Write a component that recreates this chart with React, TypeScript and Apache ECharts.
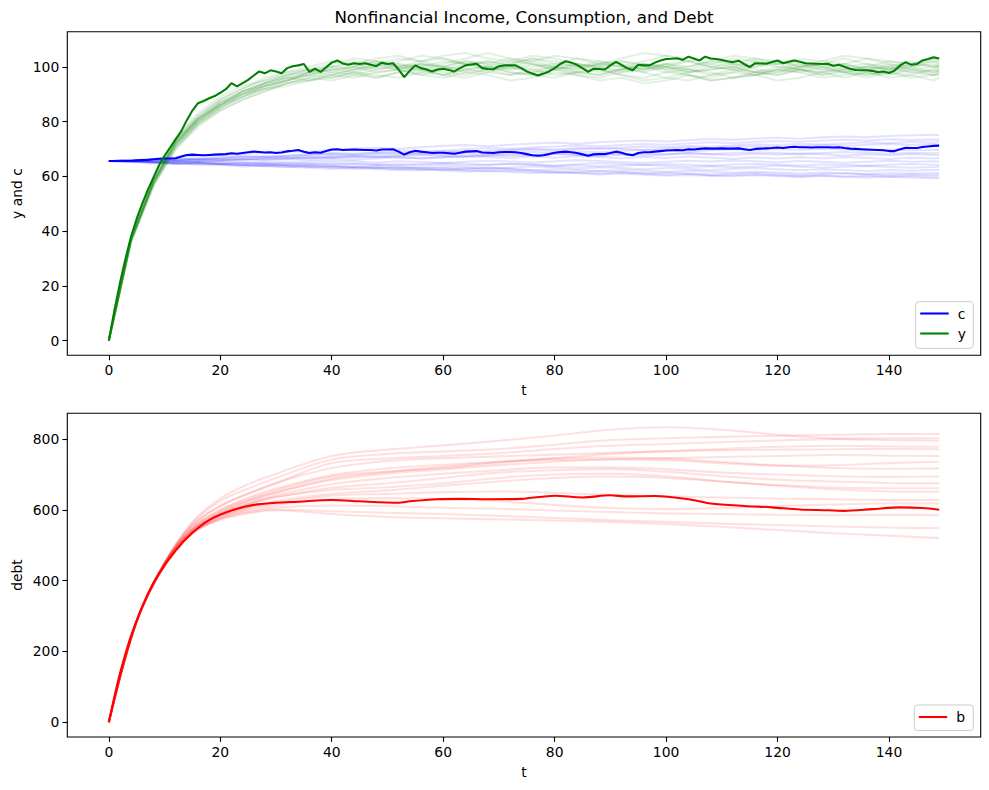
import React, { useEffect, useRef } from "react";
import * as echarts from "echarts";

const FONT = "DejaVu Sans, Verdana, sans-serif";

// ---- tick labels ----
const xTicks = [0, 20, 40, 60, 80, 100, 120, 140];
const yTicksTop = [0, 20, 40, 60, 80, 100];
const yTicksBottom = [0, 200, 400, 600, 800];

// ---- main paths (index = t) ----
const yMain = [
  0, 11, 21, 30, 38, 44.5, 50, 55, 59.5, 64, 67.5, 70.5, 73.5, 76.5, 80.5, 84, 86.7, 87.5, 88.5, 89.3,
  90.5, 91.8, 94, 92.8, 94, 95.2, 96.8, 98.3, 97.6, 98.7,
  98.3, 97.6, 99.5, 100.2, 100.5, 101, 98.1, 99.3, 98.1, 99.8,
  101.5, 102.3, 101.2, 100.7, 101.3, 101, 101.3, 100.7, 100.2, 101.5,
  101, 101.3, 99, 96.2, 98.5, 100.5, 99.5, 99, 98.3, 99,
  99.3, 98.8, 98.3, 99.5, 100.5, 100.8, 101.1, 99.5, 99.2, 99.1,
  100.2, 100.5, 100.5, 100.5, 99.5, 98.3, 97.5, 96.8, 97.5, 98.3,
  99.5, 101, 102, 101.5, 100.7, 99.5, 98.1, 99.3, 99.2, 99,
  100.5, 101.8, 100.7, 99.5, 98.7, 100.7, 100.5, 100.5, 101.5, 102.3,
  102.8, 102.9, 103.1, 102.5, 103.7, 103, 102.3, 103.7, 103, 102.8,
  102.5, 102, 101.7, 102.2, 101, 99.9, 101.3, 101.2, 101.1, 101.7,
  102.3, 101.3, 101.8, 102.3, 101.8, 101.3, 101.2, 101.1, 101, 101.1,
  100.4, 100.7, 100, 99.3, 98.8, 98.7, 98.7, 98.5, 98, 98.3,
  97.7, 98.6, 100.5, 101.7, 100.7, 101, 102.3, 102.8, 103.5, 103,
];

const cMain = [
  65.6, 65.6, 65.65, 65.7, 65.7, 65.8, 65.9, 66, 66.2, 66.4,
  66.5, 66.5, 66.6, 67.2, 67.8, 67.9, 67.8, 67.7, 67.8, 67.9,
  68, 68.1, 68.4, 68.2, 68.5, 68.8, 69, 68.9, 68.7, 68.8,
  68.5, 68.7, 69.1, 69.3, 69.6, 69, 68.5, 68.8, 68.6, 69.2,
  69.8, 69.9, 69.6, 69.7, 69.8, 69.7, 69.6, 69.6, 69.4, 69.8,
  69.8, 69.9, 69, 67.9, 68.8, 69.3, 69, 68.8, 68.5, 68.6,
  68.6, 68.4, 68.2, 68.6, 69, 69.1, 69.2, 68.7, 68.6, 68.5,
  68.8, 68.9, 68.9, 68.8, 68.5, 68.1, 67.7, 67.5, 67.7, 68.1,
  68.6, 68.9, 69, 68.8, 68.5, 68, 67.5, 68, 68.1, 68.1,
  68.5, 69, 68.6, 68, 67.7, 68.5, 68.8, 68.8, 69, 69.2,
  69.4, 69.5, 69.6, 69.5, 69.9, 69.8, 70, 70.2, 70.1, 70.1,
  70.2, 70.1, 70.1, 70.2, 69.9, 69.6, 70, 70.1, 70.2, 70.3,
  70.5, 70.3, 70.6, 70.8, 70.6, 70.6, 70.5, 70.6, 70.6, 70.6,
  70.5, 70.6, 70.3, 70.1, 70, 69.9, 69.8, 69.7, 69.6, 69.5,
  69.2, 69.2, 69.9, 70.4, 70.3, 70.3, 70.7, 70.9, 71.1, 71.2,
];

const tB = [0, 1, 2, 4, 7, 9, 12, 15, 18, 22, 26, 30, 34, 40, 45, 52, 54, 59, 63, 68, 74, 80, 85, 90, 93, 98, 104, 108, 114, 119, 124, 129, 132, 137, 142, 146, 149];
const bMain = [0, 72, 138, 245, 362, 420, 485, 535, 571, 598, 614, 620, 623, 628, 624, 620, 624, 630, 631, 630, 631, 640, 635, 641, 638, 639, 630, 618, 611, 607, 601, 599, 597, 602, 607, 605, 600];

// ---- faint simulated paths ----
const tFaint = [0, 4, 8, 12, 16, 20, 24, 28, 32, 36, 40, 44, 48, 52, 56, 60, 64, 68, 72, 76, 80, 84, 88, 92, 96, 100, 104, 108, 112, 116, 120, 124, 128, 132, 136, 140, 144, 148, 149];

const yFaint = [
  [0, 37, 58, 72, 80, 86, 91, 94, 96, 97, 99, 100, 98, 99, 101, 100, 102, 101, 99, 100, 101, 103, 102, 100, 99, 101, 102, 100, 99, 101, 102, 100, 101, 99, 100, 102, 101, 100, 100.5],
  [0, 36, 57, 71, 79, 85, 89, 93, 95, 98, 97, 99, 101, 103, 102, 100, 99, 98, 100, 102, 104, 103, 101, 100, 102, 104, 103, 101, 100, 98, 99, 101, 100, 98, 97, 99, 98, 97, 97.5],
  [0, 38, 59, 74, 82, 88, 92, 95, 98, 100, 102, 101, 103, 104, 102, 103, 101, 100, 102, 101, 99, 100, 98, 99, 101, 100, 99, 97, 98, 100, 101, 103, 102, 104, 103, 101, 100, 102, 101.5],
  [0, 37, 57, 70, 78, 84, 88, 91, 94, 95, 96, 98, 97, 96, 98, 97, 99, 100, 98, 97, 96, 98, 99, 97, 96, 98, 97, 95, 96, 97, 99, 98, 96, 97, 98, 96, 97, 95, 96],
  [0, 37, 58, 73, 81, 87, 90, 94, 97, 99, 98, 100, 102, 100, 99, 101, 103, 105, 103, 101, 100, 99, 101, 102, 100, 98, 99, 101, 103, 102, 100, 99, 98, 100, 101, 99, 100, 98, 98.5],
  [0, 36, 57, 71, 80, 85, 90, 92, 95, 97, 99, 98, 96, 98, 100, 102, 101, 99, 97, 98, 100, 101, 99, 97, 95, 96, 98, 100, 99, 97, 98, 100, 102, 101, 99, 98, 100, 101, 100],
  [0, 37, 58, 72, 81, 86, 90, 93, 96, 98, 100, 102, 101, 99, 101, 100, 98, 99, 101, 103, 102, 100, 101, 103, 105, 104, 102, 100, 101, 103, 102, 100, 99, 101, 103, 102, 101, 103, 102.5],
  [0, 38, 59, 73, 81, 87, 91, 94, 96, 95, 97, 99, 100, 102, 104, 103, 101, 102, 100, 99, 97, 98, 100, 99, 98, 96, 95, 97, 99, 98, 100, 99, 101, 100, 98, 97, 99, 98, 99],
  [0, 37, 58, 72, 80, 86, 89, 92, 93, 95, 97, 96, 98, 99, 97, 96, 98, 97, 95, 96, 98, 97, 95, 96, 94, 95, 97, 96, 98, 97, 95, 96, 98, 99, 97, 98, 96, 97, 97],
  [0, 37, 58, 73, 82, 88, 92, 96, 98, 99, 101, 103, 102, 100, 101, 99, 100, 102, 101, 103, 101, 100, 102, 101, 99, 100, 98, 99, 100, 102, 101, 99, 97, 99, 100, 99, 101, 102, 101],
  [0, 36, 56, 70, 79, 84, 88, 91, 94, 96, 98, 97, 99, 101, 100, 98, 97, 99, 100, 98, 99, 101, 100, 102, 101, 99, 100, 102, 104, 103, 101, 102, 100, 101, 99, 100, 98, 99, 99.5],
  [0, 37, 58, 72, 80, 86, 90, 93, 95, 97, 96, 98, 100, 99, 97, 99, 101, 100, 98, 97, 99, 97, 96, 98, 100, 101, 99, 98, 96, 97, 99, 98, 100, 98, 99, 101, 99, 100, 99.5],
  [0, 38, 60, 74, 83, 89, 93, 95, 97, 99, 100, 99, 101, 100, 102, 104, 105, 103, 102, 104, 103, 101, 100, 98, 99, 101, 100, 102, 101, 99, 98, 100, 101, 103, 101, 100, 102, 100, 100.5],
  [0, 37, 57, 71, 79, 85, 89, 92, 94, 96, 95, 97, 96, 98, 99, 97, 96, 98, 97, 99, 100, 98, 97, 99, 100, 99, 97, 95, 96, 98, 97, 99, 98, 96, 98, 100, 99, 97, 98],
  [0, 37, 58, 72, 81, 87, 91, 94, 97, 98, 100, 101, 99, 100, 98, 100, 102, 101, 103, 102, 100, 99, 101, 100, 98, 100, 102, 103, 101, 100, 102, 101, 99, 98, 100, 99, 101, 103, 102],
  [0, 37, 58, 73, 81, 86, 91, 93, 95, 98, 99, 100, 102, 101, 99, 97, 99, 100, 99, 101, 99, 98, 97, 99, 101, 100, 98, 99, 100, 98, 97, 99, 97, 98, 96, 98, 97, 99, 98],
];

const cFaint = [
  [65.6, 65.5, 65.2, 64.8, 65.1, 64.6, 64.2, 64.5, 64.0, 63.6, 63.9, 63.4, 63.0, 63.3, 62.8, 62.4, 62.9, 63.3, 62.8, 62.2, 61.7, 61.3, 61.0, 61.5, 61.0, 60.6, 60.9, 60.4, 60.0, 60.4, 60.1, 59.7, 60.2, 59.8, 59.5, 59.9, 59.6, 59.3, 59.3],
  [65.6, 65.8, 66.3, 66.9, 67.2, 67.8, 68.1, 68.6, 69.2, 69.0, 69.5, 70.1, 70.4, 70.0, 70.6, 71.1, 71.4, 71.0, 71.5, 72.0, 72.3, 71.9, 72.4, 72.8, 73.1, 72.7, 73.2, 73.6, 73.3, 73.8, 74.1, 73.7, 74.2, 74.5, 74.2, 74.7, 75.0, 75.2, 75.1],
  [65.6, 65.7, 66.1, 66.5, 66.2, 66.8, 67.3, 67.0, 67.6, 68.1, 68.5, 68.2, 68.8, 69.3, 69.0, 69.4, 69.9, 70.3, 70.0, 70.5, 70.9, 71.3, 71.0, 71.4, 71.8, 71.5, 72.0, 72.4, 72.1, 72.6, 72.9, 72.6, 73.0, 73.4, 73.1, 73.5, 73.2, 73.4, 73.3],
  [65.6, 65.5, 65.9, 66.3, 66.0, 66.4, 66.9, 67.3, 67.0, 67.5, 67.9, 67.6, 68.1, 68.6, 68.3, 68.7, 69.1, 68.8, 69.3, 69.7, 69.4, 69.9, 70.3, 70.0, 69.6, 70.1, 70.5, 70.2, 70.7, 71.0, 70.6, 71.0, 71.4, 71.1, 71.5, 71.8, 71.4, 71.6, 71.5],
  [65.6, 65.4, 65.8, 65.5, 65.9, 66.3, 66.0, 66.5, 66.9, 66.6, 67.1, 67.5, 67.2, 67.7, 68.1, 67.8, 68.3, 68.0, 68.5, 68.9, 68.6, 69.1, 68.8, 69.3, 69.7, 69.4, 69.0, 69.5, 69.9, 69.6, 70.0, 69.7, 70.1, 69.8, 69.4, 69.8, 69.5, 69.7, 69.6],
  [65.6, 65.7, 65.4, 65.9, 66.3, 66.0, 66.4, 66.1, 66.6, 67.0, 66.7, 67.2, 66.9, 67.4, 67.8, 67.5, 67.1, 67.6, 68.0, 67.7, 68.2, 67.8, 67.4, 67.9, 68.3, 68.0, 68.4, 68.1, 67.7, 68.2, 67.9, 68.3, 68.0, 67.6, 68.0, 67.7, 68.1, 67.8, 67.8],
  [65.6, 65.5, 65.2, 65.6, 65.3, 65.7, 66.1, 65.8, 66.2, 65.9, 66.4, 66.0, 66.5, 66.9, 66.6, 67.0, 67.4, 67.1, 66.7, 67.2, 66.8, 67.3, 67.0, 66.6, 67.1, 66.7, 67.2, 66.8, 66.4, 66.9, 66.5, 67.0, 66.6, 67.0, 66.7, 66.3, 66.8, 66.5, 66.6],
  [65.6, 65.6, 65.3, 65.0, 65.4, 65.1, 64.8, 65.2, 64.9, 65.3, 65.7, 65.4, 65.0, 65.5, 65.2, 64.8, 65.3, 65.7, 65.4, 65.0, 65.5, 65.9, 65.6, 65.2, 64.9, 65.3, 65.7, 65.4, 65.8, 65.5, 65.1, 65.6, 65.3, 64.9, 65.3, 65.7, 65.3, 65.5, 65.4],
  [65.6, 65.4, 65.0, 65.3, 64.9, 64.5, 64.9, 64.6, 64.2, 64.6, 64.3, 64.7, 64.4, 64.0, 64.5, 64.9, 64.6, 64.2, 64.6, 64.3, 63.9, 64.4, 64.8, 64.5, 64.1, 64.5, 64.2, 63.8, 64.3, 64.6, 64.3, 63.9, 64.4, 64.1, 63.8, 64.2, 64.5, 64.2, 64.1],
  [65.6, 65.3, 64.9, 64.5, 64.8, 64.4, 64.0, 64.3, 63.9, 64.2, 63.8, 63.4, 63.8, 63.5, 63.1, 63.5, 63.2, 62.8, 63.2, 63.6, 63.3, 62.9, 63.3, 63.0, 62.6, 63.0, 62.7, 62.3, 62.7, 63.0, 62.6, 62.2, 62.6, 62.3, 61.9, 62.3, 62.0, 62.4, 62.3],
  [65.6, 65.4, 65.1, 64.7, 64.3, 64.6, 64.2, 63.8, 64.1, 63.7, 63.3, 63.6, 63.2, 62.8, 63.2, 62.9, 62.5, 62.9, 62.6, 62.2, 62.6, 62.3, 61.9, 62.3, 62.0, 61.6, 62.0, 61.7, 61.3, 61.7, 61.4, 61.0, 61.4, 61.1, 60.8, 61.2, 60.9, 61.2, 61.1],
  [65.6, 65.5, 65.1, 64.8, 64.4, 64.0, 63.6, 63.9, 63.5, 63.1, 62.7, 63.0, 62.6, 62.2, 62.5, 62.1, 61.7, 62.0, 61.6, 61.2, 61.5, 61.1, 60.7, 61.0, 60.6, 60.2, 60.5, 60.1, 60.4, 60.7, 60.3, 60.0, 60.3, 59.9, 60.2, 59.8, 60.1, 59.8, 59.9],
  [65.6, 65.8, 66.2, 66.0, 66.5, 66.9, 67.3, 67.0, 67.5, 67.9, 68.3, 68.0, 68.5, 68.2, 68.7, 69.1, 68.8, 69.3, 69.7, 70.1, 69.8, 70.3, 70.0, 70.5, 70.9, 70.6, 71.1, 70.8, 71.3, 71.7, 71.4, 71.9, 71.6, 72.0, 72.4, 72.1, 72.5, 72.3, 72.5],
  [65.6, 65.6, 65.9, 65.6, 65.2, 65.5, 65.1, 64.7, 65.0, 64.6, 64.9, 64.5, 64.1, 64.4, 64.0, 64.3, 63.9, 64.2, 64.5, 64.1, 63.7, 64.0, 63.6, 63.9, 64.2, 63.8, 63.4, 63.7, 63.3, 63.6, 63.9, 63.5, 63.2, 63.5, 63.8, 63.4, 63.1, 63.4, 63.5],
  [65.6, 65.7, 66.0, 65.7, 66.1, 65.8, 66.2, 66.6, 66.3, 66.7, 67.1, 66.8, 67.2, 66.9, 66.5, 66.9, 67.3, 67.7, 67.4, 67.8, 68.2, 67.9, 68.3, 68.0, 67.6, 68.0, 68.4, 68.1, 68.5, 68.8, 68.5, 68.1, 68.5, 68.9, 68.6, 68.2, 68.6, 68.4, 68.5],
  [65.6, 65.4, 65.0, 64.6, 64.9, 64.5, 64.1, 63.7, 63.3, 63.6, 63.2, 62.8, 63.1, 62.7, 62.3, 62.6, 62.2, 61.8, 62.1, 61.7, 61.3, 61.6, 61.9, 61.5, 61.1, 61.4, 61.0, 60.6, 60.9, 61.2, 60.8, 60.5, 60.8, 61.1, 60.7, 60.4, 60.7, 60.5, 60.6],
];

const tBFaint = [0, 5, 10, 15, 20, 25, 30, 40, 50, 60, 70, 80, 90, 100, 110, 120, 130, 140, 149];
const bFaint = [
  [0, 288, 452, 566, 632, 672, 702, 752, 770, 782, 795, 810, 826, 833, 826, 812, 801, 797, 795],
  [0, 288, 451, 562, 625, 660, 690, 742, 758, 765, 772, 784, 797, 802, 806, 809, 812, 814, 814],
  [0, 287, 450, 556, 612, 645, 675, 732, 745, 752, 760, 772, 781, 786, 791, 796, 800, 802, 802],
  [0, 288, 450, 557, 610, 646, 676, 718, 738, 746, 751, 756, 761, 766, 772, 778, 781, 779, 778],
  [0, 287, 448, 549, 598, 630, 655, 694, 708, 718, 732, 746, 758, 765, 768, 770, 771, 772, 771],
  [0, 287, 449, 551, 600, 634, 660, 698, 717, 727, 736, 741, 743, 746, 749, 752, 755, 753, 752],
  [0, 286, 447, 545, 592, 624, 648, 684, 702, 714, 726, 736, 742, 740, 732, 725, 726, 732, 736],
  [0, 286, 447, 546, 594, 626, 650, 688, 707, 721, 736, 745, 748, 745, 735, 725, 718, 716, 717],
  [0, 286, 446, 542, 589, 619, 641, 672, 690, 702, 712, 720, 720, 715, 705, 700, 695, 693, 694],
  [0, 285, 445, 540, 586, 615, 636, 662, 675, 690, 705, 712, 715, 708, 695, 685, 680, 676, 675],
  [0, 285, 446, 542, 587, 616, 636, 656, 664, 675, 690, 700, 702, 695, 680, 670, 663, 661, 661],
  [0, 285, 445, 538, 583, 608, 625, 645, 655, 668, 680, 690, 694, 690, 680, 668, 658, 652, 651],
  [0, 284, 444, 537, 581, 605, 620, 640, 645, 650, 652, 648, 642, 638, 635, 632, 630, 628, 628],
  [0, 284, 444, 536, 578, 602, 614, 630, 633, 630, 624, 614, 605, 602, 605, 610, 615, 618, 618],
  [0, 284, 444, 535, 576, 597, 607, 612, 610, 606, 603, 598, 594, 590, 588, 586, 585, 586, 585],
  [0, 284, 443, 534, 574, 593, 601, 596, 592, 588, 583, 577, 571, 566, 561, 557, 553, 550, 548],
  [0, 284, 443, 534, 572, 590, 599, 588, 580, 576, 573, 570, 566, 560, 552, 543, 534, 527, 520],
];

// ---- helpers ----
function pairs(ts: number[], vs: number[]) {
  const n = Math.min(ts.length, vs.length);
  const out: number[][] = [];
  for (let i = 0; i < n; i++) out.push([ts[i], vs[i]]);
  return out;
}
function indexed(vs: number[]) {
  return vs.map((v, t) => [t, v]);
}

const LW = 2.08;

function faintSeries(rows: number[][], ts: number[], color: string, idx: number, smooth: boolean) {
  return rows.map((r) => ({
    type: "line",
    xAxisIndex: idx,
    yAxisIndex: idx,
    data: pairs(ts, r),
    showSymbol: false,
    symbol: "none",
    silent: true,
    smooth: smooth ? 0.35 : false,
    lineStyle: { color, width: LW },
    z: 2,
  }));
}

function xAxisCfg(gridIndex: number) {
  return {
    type: "value",
    gridIndex,
    position: "bottom",
    min: -7.45,
    max: 156.45,
    axisLine: { show: false, onZero: false },
    splitLine: { show: false },
    axisTick: { show: true, inside: false, length: 4.9, lineStyle: { color: "#000", width: 1.1 }, customValues: xTicks },
    axisLabel: { color: "#000", fontFamily: FONT, fontSize: 13.9, margin: 8, customValues: xTicks },
  };
}
function yAxisCfg(gridIndex: number, min: number, max: number, ticks: number[]) {
  return {
    type: "value",
    gridIndex,
    position: "left",
    min,
    max,
    axisLine: { show: false, onZero: false },
    splitLine: { show: false },
    axisTick: { show: true, inside: false, length: 4.9, lineStyle: { color: "#000", width: 1.1 }, customValues: ticks },
    axisLabel: { color: "#000", fontFamily: FONT, fontSize: 13.9, margin: 8, customValues: ticks },
  };
}

const GL = 67.3;
const GW = 913.4;

function legendBox(x: number, y: number, w: number, h: number, items: { label: string; color: string; y: number }[]) {
  const children: any[] = [
    {
      type: "rect",
      shape: { x, y, width: w, height: h, r: 3 },
      style: { fill: "rgba(255,255,255,0.8)", stroke: "#cccccc", lineWidth: 1 },
    },
  ];
  items.forEach((it) => {
    children.push({
      type: "line",
      shape: { x1: x + 4.5, y1: it.y, x2: x + 33, y2: it.y },
      style: { stroke: it.color, lineWidth: LW },
    });
    children.push({
      type: "text",
      x: x + 42,
      y: it.y,
      style: { text: it.label, fill: "#000", font: `13.9px ${FONT}`, textAlign: "left", textVerticalAlign: "middle" },
    });
  });
  return { type: "group", children, z: 100 };
}

export default function App() {
  const ref = useRef<HTMLDivElement>(null);
  useEffect(() => {
    if (!ref.current) return;
    const chart = echarts.init(ref.current, null, { renderer: "svg" });
    const option: any = {
      animation: false,
      backgroundColor: "#ffffff",
      grid: [
        { left: GL, top: 31.7, width: GW, height: 323.6, show: true, borderColor: "#000", borderWidth: 1.1, backgroundColor: "transparent" },
        { left: GL, top: 413.3, width: GW, height: 323.7, show: true, borderColor: "#000", borderWidth: 1.1, backgroundColor: "transparent" },
      ],
      xAxis: [xAxisCfg(0), xAxisCfg(1)],
      yAxis: [yAxisCfg(0, -5.37, 112.8, yTicksTop), yAxisCfg(1, -41.5, 872.6, yTicksBottom)],
      series: [
        ...faintSeries(cFaint, tFaint, "rgba(0,0,255,0.11)", 0, false),
        ...faintSeries(yFaint, tFaint, "rgba(0,128,0,0.11)", 0, false),
        ...faintSeries(bFaint, tBFaint, "rgba(255,0,0,0.12)", 1, true),
        {
          name: "c",
          type: "line",
          xAxisIndex: 0,
          yAxisIndex: 0,
          data: indexed(cMain),
          symbol: "none",
          showSymbol: false,
          lineStyle: { color: "#0000ff", width: LW },
          z: 5,
        },
        {
          name: "y",
          type: "line",
          xAxisIndex: 0,
          yAxisIndex: 0,
          data: indexed(yMain),
          symbol: "none",
          showSymbol: false,
          lineStyle: { color: "#008000", width: LW },
          z: 5,
        },
        {
          name: "b",
          type: "line",
          xAxisIndex: 1,
          yAxisIndex: 1,
          data: pairs(tB, bMain),
          symbol: "none",
          showSymbol: false,
          smooth: 0.3,
          lineStyle: { color: "#ff0000", width: LW },
          z: 5,
        },
      ],
      graphic: [
        {
          type: "text",
          x: GL + GW / 2,
          y: 17,
          style: { text: "Nonfinancial Income, Consumption, and Debt", fill: "#000", font: `16.7px ${FONT}`, textAlign: "center", textVerticalAlign: "middle" },
        },
        {
          type: "text",
          x: GL + GW / 2,
          y: 390,
          style: { text: "t", fill: "#000", font: `13.9px ${FONT}`, textAlign: "center", textVerticalAlign: "middle" },
        },
        {
          type: "text",
          x: GL + GW / 2,
          y: 771.5,
          style: { text: "t", fill: "#000", font: `13.9px ${FONT}`, textAlign: "center", textVerticalAlign: "middle" },
        },
        {
          type: "text",
          x: 17,
          y: 193.5,
          rotation: Math.PI / 2,
          style: { text: "y and c", fill: "#000", font: `13.9px ${FONT}`, textAlign: "center", textVerticalAlign: "middle" },
        },
        {
          type: "text",
          x: 17,
          y: 575,
          rotation: Math.PI / 2,
          style: { text: "debt", fill: "#000", font: `13.9px ${FONT}`, textAlign: "center", textVerticalAlign: "middle" },
        },
        legendBox(915.7, 301.7, 57.6, 46.6, [
          { label: "c", color: "#0000ff", y: 313.5 },
          { label: "y", color: "#008000", y: 333.5 },
        ]),
        legendBox(914.3, 705, 59, 25.5, [{ label: "b", color: "#ff0000", y: 717 }]),
      ],
    };
    chart.setOption(option);
    return () => chart.dispose();
  }, []);
  return (
    <div
      ref={ref}
      style={{ position: "fixed", left: 0, top: 0, width: 989, height: 790, background: "#ffffff" }}
    />
  );
}
